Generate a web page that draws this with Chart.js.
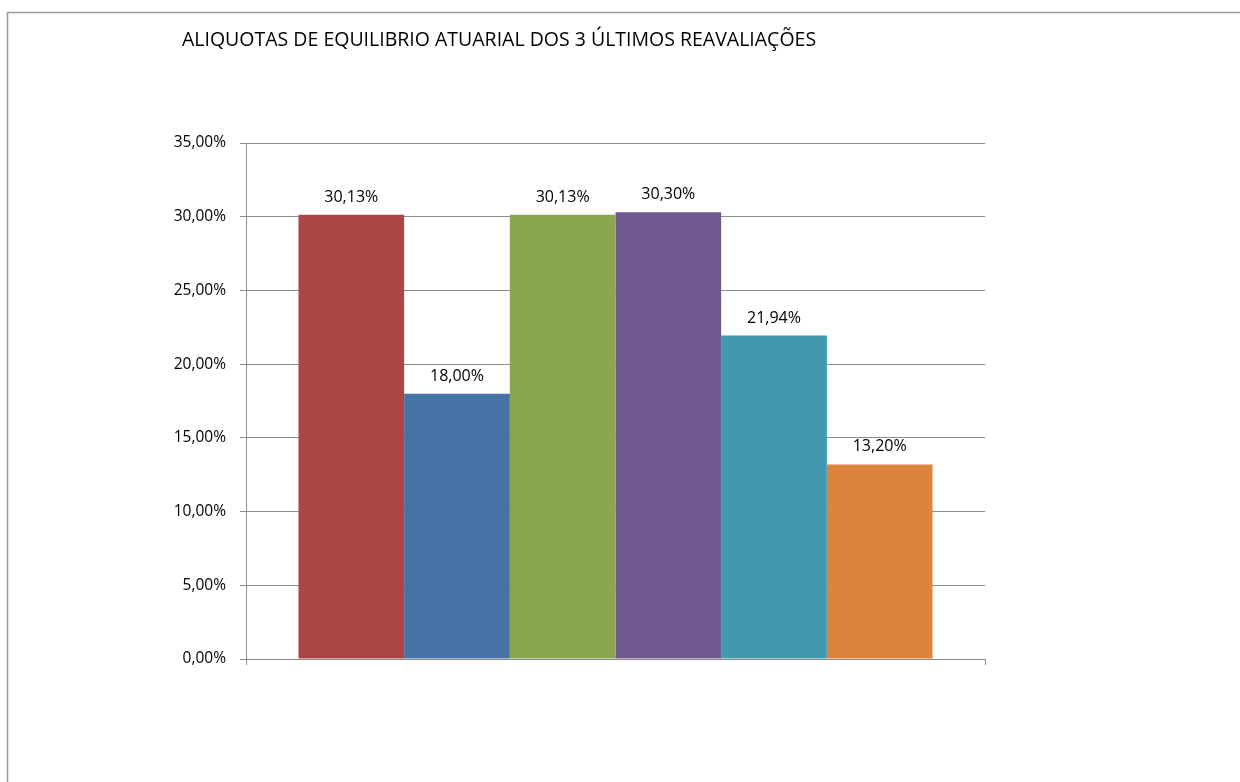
<!DOCTYPE html>
<html>
<head>
<meta charset="utf-8">
<script src="https://cdn.jsdelivr.net/npm/chart.js@4.4.0/dist/chart.umd.min.js"></script>
<style>
    html, body { margin: 0; padding: 0; background: #fff; }
    #wrap { width: 1240px; height: 782px; position: relative; }
</style>
</head>
<body>
<div id="wrap"><canvas id="chart"></canvas></div>
<script>
const TITLE = 'ALIQUOTAS DE EQUILIBRIO ATUARIAL DOS 3 ÚLTIMOS REAVALIAÇÕES';
const CATEGORIES = [''];
const SERIES_NAMES = ['Série 1', 'Série 2', 'Série 3', 'Série 4', 'Série 5', 'Série 6'];
const SERIES_VALUES = [30.13, 18.00, 30.13, 30.30, 21.94, 13.20];
const SERIES_COLORS = ['#AA4643', '#4572A7', '#89A54E', '#71588F', '#4198AF', '#DB843D'];
const Y_MIN = 0;
const Y_MAX = 35;
const Y_STEP = 5;

const FONT = '"Open Sans", "Noto Sans", sans-serif';
const fmt = v => v.toFixed(2).replace('.', ',') + '%';

// frame + title, drawn straight on the canvas
const framePlugin = {
    id: 'frame',
    beforeDraw: (chart) => {
        const ctx = chart.ctx;
        ctx.save();
        ctx.strokeStyle = '#9a9a9a';
        ctx.lineWidth = 1.5;
        ctx.strokeRect(7.5, 12.5, 1400, 1000);
        ctx.fillStyle = '#000';
        ctx.font = '19.5px ' + FONT;
        ctx.textBaseline = 'middle';
        ctx.fillText(TITLE, 182, 40);
        ctx.restore();
    }
};

// value labels above each bar
const valueLabels = {
    id: 'valueLabels',
    afterDatasetsDraw: (chart) => {
        const ctx = chart.ctx;
        ctx.save();
        ctx.fillStyle = '#000';
        ctx.font = '16px ' + FONT;
        ctx.textAlign = 'center';
        ctx.textBaseline = 'alphabetic';
        chart.data.datasets.forEach((ds, i) => {
            chart.getDatasetMeta(i).data.forEach((bar, j) => {
                ctx.fillText(fmt(ds.data[j]), bar.x, bar.y - 13);
            });
        });
        ctx.restore();
    }
};

const datasets = SERIES_NAMES.map((name, i) => ({
    label: name,
    data: [SERIES_VALUES[i]],
    backgroundColor: SERIES_COLORS[i],
    borderWidth: 0,
    categoryPercentage: 0.858,
    barPercentage: 1.0
}));

new Chart(document.getElementById('chart'), {
    type: 'bar',
    data: { labels: CATEGORIES, datasets: datasets },
    options: {
        responsive: true,
        maintainAspectRatio: false,
        animation: false,
        layout: { padding: { left: 0, right: 255, top: 143, bottom: 0 } },
        plugins: {
            legend: { display: false },
            tooltip: { enabled: false }
        },
        scales: {
            x: {
                grid: { display: true, drawOnChartArea: false, offset: true, tickLength: 6, color: '#8c8c8c' },
                border: { color: '#8c8c8c' },
                ticks: { display: false },
                afterFit: (scale) => { scale.height = 123; }
            },
            y: {
                min: Y_MIN,
                max: Y_MAX,
                ticks: {
                    stepSize: Y_STEP,
                    color: '#000',
                    padding: 14,
                    font: { family: FONT, size: 15.5 },
                    callback: (v) => fmt(v)
                },
                grid: { color: '#8c8c8c', tickLength: 6 },
                border: { color: '#8c8c8c' },
                afterFit: (scale) => { scale.width = 246; }
            }
        }
    },
    plugins: [framePlugin, valueLabels]
});
</script>
</body>
</html>
